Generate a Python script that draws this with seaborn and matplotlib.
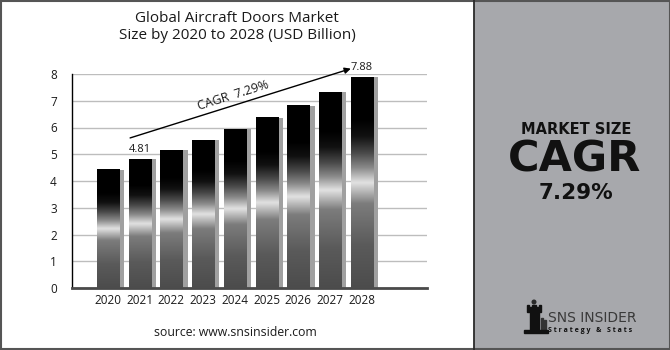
import numpy as np
import matplotlib
matplotlib.use("Agg")
import matplotlib.pyplot as plt
from matplotlib.colors import LinearSegmentedColormap
from matplotlib.patches import Rectangle, Polygon, Circle
import seaborn as sns

years = ["2020", "2021", "2022", "2023", "2024", "2025", "2026", "2027", "2028"]
values = [4.42, 4.81, 5.15, 5.53, 5.93, 6.36, 6.82, 7.32, 7.88]
yticks = [0, 1, 2, 3, 4, 5, 6, 7, 8]
title = "Global Aircraft Doors Market\nSize by 2020 to 2028 (USD Billion)"
cagr_label = "CAGR  7.29%"
source = "source: www.snsinsider.com"
side_lines = ["MARKET SIZE", "CAGR", "7.29%"]

sns.set_theme(style="white")
plt.rcParams["font.family"] = ["Open Sans", "DejaVu Sans"]

W, H = 670, 350
fig = plt.figure(figsize=(W / 100, H / 100), dpi=100)
fig.patch.set_facecolor("white")

ax = fig.add_axes([72 / W, 1 - 288 / H, 355 / W, (288 - 74) / H])
sns.barplot(x=years, y=values, ax=ax, width=0.7, color="black", saturation=1, zorder=3)

cmap = LinearSegmentedColormap.from_list("metal", [
    (0.00, "#4c4c4c"),
    (0.20, "#5a5a5a"),
    (0.40, "#7c7c7c"),
    (0.50, "#e2e2e2"),
    (0.57, "#8a8a8a"),
    (0.64, "#4a4a4a"),
    (0.72, "#111111"),
    (0.80, "#000000"),
    (1.00, "#000000"),
])
grad = np.linspace(0, 1, 256).reshape(-1, 1)

for p in list(ax.patches):
    x0, w, h = p.get_x(), p.get_width(), p.get_height()
    p.set_facecolor("none")
    p.set_edgecolor("none")
    ax.add_patch(Rectangle((x0 + 0.16, 0), w, h, facecolor="#a0a0a0",
                           edgecolor="none", zorder=2))
    ax.imshow(grad, extent=[x0, x0 + w, 0, h], aspect="auto", cmap=cmap,
              origin="lower", zorder=3, interpolation="bicubic")

ax.set_xlim(-1.13, 10.05)
ax.set_ylim(0, 8)
ax.set_yticks(yticks)
ax.set_yticklabels([str(t) for t in yticks])
ax.yaxis.grid(True, color="#bdbdbd", lw=1)
ax.set_axisbelow(True)
for s in ["top", "right"]:
    ax.spines[s].set_visible(False)
ax.spines["left"].set_color("black")
ax.spines["left"].set_linewidth(1.0)
ax.spines["bottom"].set_color("#4a4a4a")
ax.spines["bottom"].set_linewidth(2.0)
ax.tick_params(axis="y", length=0, pad=11, labelsize=8.5, labelcolor="#1a1a1a")
ax.tick_params(axis="x", length=0, pad=4, labelsize=8.5, labelcolor="#1a1a1a")
ax.set_xlabel("")
ax.set_ylabel("")

# value labels on the 2021 and 2028 bars
for i in (1, 8):
    ax.annotate(f"{values[i]:.2f}", (i, values[i]), xytext=(0, 3),
                textcoords="offset points", ha="center", va="bottom",
                fontsize=8, color="#1a1a1a", annotation_clip=False)

# CAGR arrow
ax.annotate("", xy=(8 - 0.35, values[8] + 0.32), xytext=(1 - 0.3, values[1] + 0.8),
            arrowprops=dict(arrowstyle="-|>", color="black", lw=1.0,
                            mutation_scale=9, shrinkA=0, shrinkB=0),
            annotation_clip=False)
ax.text(3.94, 7.21, cagr_label, rotation=17.5, ha="center", va="center",
        fontsize=9, color="#1a1a1a", rotation_mode="anchor")

# overlay in pixel coordinates
ov = fig.add_axes([0, 0, 1, 1], zorder=-1)
ov.set_xlim(0, W)
ov.set_ylim(H, 0)
ov.axis("off")

ov.text(237, 27, title, ha="center", va="center", fontsize=11,
        color="#1a1a1a", linespacing=1.2)
ov.text(235, 333, source, ha="center", va="center", fontsize=8.8, color="#1a1a1a")

# right panel
ov.add_patch(Rectangle((474, 0), W - 474, H, facecolor="#a7a8ac", edgecolor="none"))
ov.plot([474, 474], [0, H], color="#2b2b2b", lw=1.3)
side_font = ["DejaVu Sans"]
ov.text(576, 134, side_lines[0], ha="center", va="baseline", fontsize=10.5,
        fontweight="bold", color="#111111", family=side_font)
ov.text(575, 172, side_lines[1], ha="center", va="baseline", fontsize=31,
        fontweight="bold", color="#111111", family=side_font)
ov.text(576, 199, side_lines[2], ha="center", va="baseline", fontsize=15.5,
        fontweight="bold", color="#111111", family=side_font)

# logo
ov.add_patch(Circle((534, 302), 1.8, color="#2a2a2a"))
ov.add_patch(Polygon([(527, 305), (529, 305), (529, 307), (532, 307), (532, 305),
                      (536, 305), (536, 307), (539, 307), (539, 305), (541, 305),
                      (541, 312), (527, 312)], closed=True, color="#111111"))
ov.add_patch(Rectangle((530, 312), 9, 18, color="#111111"))
ov.add_patch(Rectangle((541, 318), 2, 12, color="#333333"))
ov.add_patch(Rectangle((544, 320), 2, 10, color="#333333"))
ov.add_patch(Rectangle((524, 330), 24, 3, color="#111111"))
ov.text(548, 318, "SNS INSIDER", ha="left", va="center", fontsize=10,
        color="#3a3a3a", family=["Liberation Sans Narrow", "DejaVu Sans"])
ov.text(548, 331, "S t r a t e g y   &   S t a t s", ha="left", va="center",
        fontsize=5, color="#111111", fontweight="bold")

# outer border
ov.add_patch(Rectangle((0.5, 0.5), W - 1, H - 2, fill=False, edgecolor="#555555", lw=1.5))

fig.savefig("out.png", dpi=100, facecolor="white")
